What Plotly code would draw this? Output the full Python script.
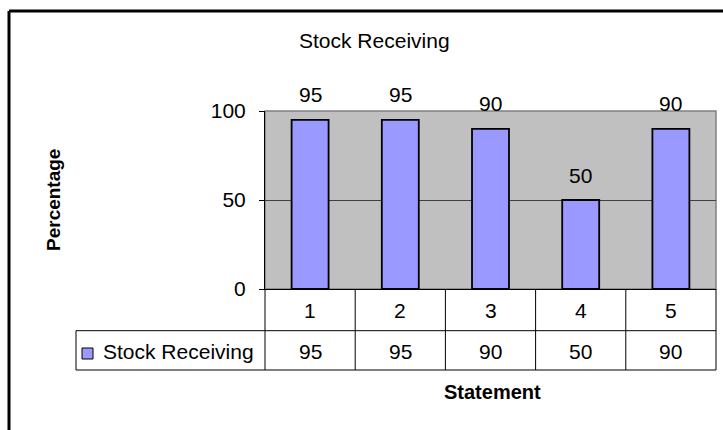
import plotly.graph_objects as go

# Survey results: share of agreement per statement
statements = ["1", "2", "3", "4", "5"]
series_name = "Stock Receiving"
percentages = [95, 95, 90, 50, 90]
y_ticks = [0, 50, 100]

FONT = "Liberation Sans, Arial, sans-serif"
BAR_FILL = "#9999FF"
W, H = 723, 430
L, R, T, B = 265, 7, 111, 141

fig = go.Figure()
fig.add_trace(go.Bar(
    x=statements, y=percentages, name=series_name,
    width=0.41,
    marker=dict(color=BAR_FILL, line=dict(color="black", width=1.8)),
    showlegend=False, hoverinfo="x+y",
))

plot_w = W - L - R
plot_h = H - T - B


def px_x(px):
    return (px - L) / plot_w


def px_y(py):
    return (H - B - py) / plot_h


def text_font(size=21):
    return dict(family=FONT, size=size, color="black")


annotations = []
# value labels above each bar (category axis positions are serial indices)
for i, v in enumerate(percentages):
    annotations.append(dict(x=i, y=v, xref="x", yref="y", text=str(v),
                            showarrow=False, yshift=25, xanchor="center",
                            yanchor="middle", font=text_font()))

# data table: category row and value row
row1_y = px_y(310)
row2_y = px_y(351)
for i, (s, v) in enumerate(zip(statements, percentages)):
    annotations.append(dict(x=i, y=row1_y, xref="x", yref="paper", text=s,
                            showarrow=False, xanchor="center", yanchor="middle",
                            font=text_font()))
    annotations.append(dict(x=i, y=row2_y, xref="x", yref="paper", text=str(v),
                            showarrow=False, xanchor="center", yanchor="middle",
                            font=text_font()))

annotations.append(dict(x=px_x(101), y=row2_y, xref="paper", yref="paper",
                        text=series_name, showarrow=False, xanchor="left",
                        yanchor="middle", font=text_font()))

# chart title and axis titles
annotations.append(dict(x=px_x(374), y=px_y(41), xref="paper", yref="paper",
                        text="Stock Receiving", showarrow=False,
                        xanchor="center", yanchor="middle", font=text_font()))
annotations.append(dict(x=px_x(492), y=px_y(392), xref="paper", yref="paper",
                        text="<b>Statement</b>", showarrow=False,
                        xanchor="center", yanchor="middle", font=text_font(20)))
annotations.append(dict(x=px_x(53), y=px_y(200), xref="paper", yref="paper",
                        text="<b>Percentage</b>", showarrow=False, textangle=-90,
                        xanchor="center", yanchor="middle", font=text_font(19)))

shapes = []
# plot area frame
shapes.append(dict(type="rect", xref="paper", yref="paper", x0=0, x1=1, y0=0, y1=1,
                   line=dict(color="#808080", width=1.5), layer="below"))
# table grid
tl, tr = px_x(76), 1.0
y_top, y_mid, y_bot = 0.0, px_y(330.7), px_y(370)
grid = dict(color="black", width=1)
shapes.append(dict(type="line", xref="paper", yref="paper", x0=tl, x1=tr, y0=y_mid, y1=y_mid, line=grid))
shapes.append(dict(type="line", xref="paper", yref="paper", x0=tl, x1=tr, y0=y_bot, y1=y_bot, line=grid))
shapes.append(dict(type="line", xref="paper", yref="paper", x0=tl, x1=tl, y0=y_mid, y1=y_bot, line=grid))
for xb in (0.0, 1.0):
    shapes.append(dict(type="line", xref="paper", yref="paper", x0=xb, x1=xb,
                       y0=y_top, y1=y_bot, line=grid))
for i in range(1, len(statements)):
    shapes.append(dict(type="line", xref="x", yref="paper", x0=i - 0.5, x1=i - 0.5,
                       y0=y_top, y1=y_bot, line=grid))
# legend key in the table
shapes.append(dict(type="rect", xref="paper", yref="paper",
                   x0=px_x(82), x1=px_x(93), y0=px_y(359), y1=px_y(348),
                   fillcolor=BAR_FILL, line=dict(color="black", width=1)))
# chart frame (top and left edges)
shapes.append(dict(type="line", xref="paper", yref="paper", x0=px_x(9), x1=px_x(730),
                   y0=px_y(11), y1=px_y(11), line=dict(color="black", width=3)))
shapes.append(dict(type="line", xref="paper", yref="paper", x0=px_x(9), x1=px_x(9),
                   y0=px_y(11), y1=px_y(440), line=dict(color="black", width=3)))

fig.update_layout(
    width=W, height=H,
    margin=dict(l=L, r=R, t=T, b=B, pad=0),
    paper_bgcolor="white", plot_bgcolor="#C0C0C0",
    xaxis=dict(type="category", range=[-0.5, len(statements) - 0.5],
               showticklabels=False, ticks="", showgrid=False, showline=True,
               linecolor="black", linewidth=1, zeroline=False, fixedrange=True),
    yaxis=dict(range=[0, 100], tickvals=y_ticks, ticks="outside", ticklen=5,
               tickcolor="black", showline=True, linecolor="black", linewidth=1,
               showgrid=True, gridcolor="#404040", gridwidth=1, zeroline=False,
               tickfont=text_font(), ticklabelstandoff=9, fixedrange=True),
    annotations=annotations, shapes=shapes,
)

fig.write_html("out.html")
